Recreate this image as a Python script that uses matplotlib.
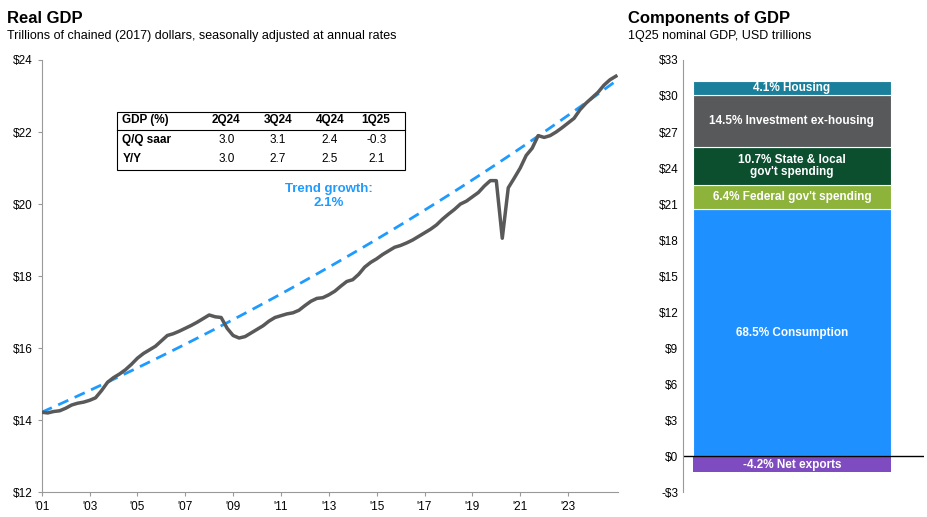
import numpy as np
import matplotlib.pyplot as plt
from matplotlib.patches import Rectangle

plt.rcParams['font.family'] = ['Liberation Sans', 'DejaVu Sans']

# real GDP, trillions of chained 2017 dollars, quarterly 2001Q1..2025Q1
gdp = [14.22, 14.20, 14.24, 14.26, 14.33, 14.42, 14.47, 14.50,
       14.55, 14.62, 14.82, 15.05, 15.18, 15.28, 15.40, 15.55,
       15.72, 15.85, 15.95, 16.05, 16.20, 16.35, 16.40, 16.47,
       16.55, 16.63, 16.72, 16.82, 16.92, 16.87, 16.85, 16.55,
       16.35, 16.28, 16.32, 16.42, 16.52, 16.62, 16.75, 16.85,
       16.90, 16.95, 16.98, 17.05, 17.18, 17.30, 17.38, 17.40,
       17.48, 17.58, 17.72, 17.85, 17.90, 18.05, 18.25, 18.38,
       18.48, 18.60, 18.70, 18.80, 18.85, 18.92, 19.00, 19.10,
       19.20, 19.30, 19.42, 19.58, 19.72, 19.85, 20.00, 20.08,
       20.20, 20.32, 20.50, 20.65, 20.65, 19.05, 20.45, 20.72,
       21.00, 21.35, 21.55, 21.90, 21.85, 21.90, 22.00, 22.12,
       22.25, 22.38, 22.62, 22.80, 22.95, 23.10, 23.30, 23.45, 23.55]
quarters = 2001 + np.arange(len(gdp)) * 0.25
trend_rate = 0.021

tbl_cols = ['GDP (%)', '2Q24', '3Q24', '4Q24', '1Q25']
tbl_rows = [['Q/Q saar', '3.0', '3.1', '2.4', '-0.3'],
            ['Y/Y', '3.0', '2.7', '2.5', '2.1']]

comp_labels = ['68.5% Consumption', '6.4% Federal gov\'t spending',
               '10.7% State & local\ngov\'t spending', '14.5% Investment ex-housing',
               '4.1% Housing']
comp_vals = [20.6, 1.95, 3.2, 4.3, 1.2]
comp_colors = ['#1e90ff', '#8db33a', '#0b4f2f', '#58595b', '#1a7f9a']
netx_label = '-4.2% Net exports'
netx_val = -1.3

fig = plt.figure(figsize=(9.27, 5.17), dpi=100)
ax = fig.add_axes([0.045, 0.048, 0.622, 0.836])
ax2 = fig.add_axes([0.737, 0.048, 0.26, 0.836])

# left: real GDP
ax.plot(quarters, gdp, color='#595959', lw=2.5, zorder=3)
trend = gdp[0] * (1 + trend_rate) ** (quarters - quarters[0])
ax.plot(quarters, trend, color='#1f9bff', lw=2, ls=(0, (4, 2.5)), zorder=2)
ax.text(2013.0, 19.95, 'Trend growth:\n2.1%', color='#1f9bff', ha='center',
        fontsize=9.5, fontweight='bold')
ax.set_xlim(2001, 2025.1)
ax.set_ylim(12, 24)
ax.set_xticks(range(2001, 2025, 2))
ax.set_xticklabels(["'%02d" % (y % 100) for y in range(2001, 2025, 2)], fontsize=8.5)
ax.set_yticks(range(12, 25, 2))
ax.set_yticklabels(['$%d' % v for v in range(12, 25, 2)], fontsize=8.5)
ax.tick_params(length=3, color='#999999')
for s in ['top', 'right']:
    ax.spines[s].set_visible(False)
for s in ['left', 'bottom']:
    ax.spines[s].set_color('#999999')

# table
xs = [0.14, 0.32, 0.41, 0.50, 0.58]
ax.add_patch(Rectangle((0.13, 0.745), 0.50, 0.135, transform=ax.transAxes,
                       fill=False, ec='black', lw=0.8))
for x, c in zip(xs, tbl_cols):
    ax.text(x, 0.86, c, transform=ax.transAxes, fontsize=8.5, fontweight='bold',
            ha='left' if x == xs[0] else 'center', va='center')
ax.plot([0.13, 0.63], [0.838, 0.838], transform=ax.transAxes, color='black', lw=0.8)
for i, row in enumerate(tbl_rows):
    y = 0.815 - i * 0.043
    for j, (x, v) in enumerate(zip(xs, row)):
        ax.text(x, y, v, transform=ax.transAxes, fontsize=8.5, va='center',
                fontweight='bold' if j == 0 else 'normal',
                ha='left' if j == 0 else 'center')

fig.text(0.008, 0.955, 'Real GDP', fontsize=12, fontweight='bold')
fig.text(0.008, 0.925, 'Trillions of chained (2017) dollars, seasonally adjusted at annual rates', fontsize=9)

# right: components
bottom = 0
for lab, v, c in zip(comp_labels, comp_vals, comp_colors):
    ax2.bar(0, v, bottom=bottom, color=c, width=0.84, edgecolor='white', lw=0.8)
    ax2.text(0, bottom + v / 2, lab, color='white', ha='center', va='center',
             fontsize=8.5, fontweight='bold', linespacing=1.0)
    bottom += v
ax2.bar(0, netx_val, color='#7e4bc0', width=0.84)
ax2.text(0, netx_val / 2 - 0.05, netx_label, color='white', ha='center', va='center',
         fontsize=8.5, fontweight='bold')
ax2.axhline(0, color='black', lw=1)
ax2.set_xlim(-0.46, 0.56)
ax2.set_ylim(-3, 33)
ax2.set_xticks([])
ax2.set_yticks(range(-3, 34, 3))
ax2.set_yticklabels([('-$%d' % -v) if v < 0 else '$%d' % v for v in range(-3, 34, 3)], fontsize=8.5)
ax2.tick_params(length=0)
for s in ['top', 'right', 'bottom']:
    ax2.spines[s].set_visible(False)
ax2.spines['left'].set_color('#999999')

fig.text(0.677, 0.955, 'Components of GDP', fontsize=12, fontweight='bold')
fig.text(0.677, 0.925, '1Q25 nominal GDP, USD trillions', fontsize=9)

fig.savefig('out.png', dpi=100)
